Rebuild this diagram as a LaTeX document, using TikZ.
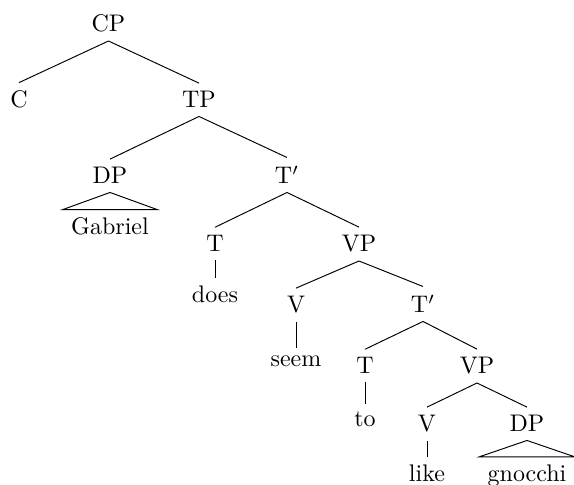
\documentclass[tikz,border=0pt]{standalone}
\begin{document}
\begin{tikzpicture}[x=0.41667pt,y=-0.41667pt,
  lbl/.style={anchor=base,inner sep=3.33pt},
  branch/.style={line width=0.4pt},
  roof/.style={line width=0.4pt}]
\useasboundingbox (0,0) rectangle (574,485);
% nodes
\node[lbl] (cp)  at (108.5,32) {CP};
\node[lbl] (c)   at (19,108)   {C};
\node[lbl] (tp)  at (199,108)  {TP};
\node[lbl] (dp)  at (110,184)  {DP};
\node[lbl] (tb)  at (287,184)  {T$'$};
\node[lbl] (gab) at (110,235)  {Gabriel};
\node[lbl] (t)   at (215,252)  {T};
\node[lbl] (vp)  at (359,252)  {VP};
\node[lbl] (does) at (215,303) {does};
\node[lbl] (v)   at (296,313)  {V};
\node[lbl] (tbb) at (423,313)  {T$'$};
\node[lbl] (seem) at (296,367) {seem};
\node[lbl] (tt)  at (365,374)  {T};
\node[lbl] (vpp) at (477,374)  {VP};
\node[lbl] (to)  at (365,427)  {to};
\node[lbl] (vv)  at (427,432)  {V};
\node[lbl] (dpp) at (527,432)  {DP};
\node[lbl] (like) at (427,482) {like};
\node[lbl] (gno) at (527,482)  {gnocchi};
% branches
\draw[branch] (cp.south) -- (c.north);
\draw[branch] (cp.south) -- (tp.north);
\draw[branch] (tp.south) -- (dp.north);
\draw[branch] (tp.south) -- (tb.north);
\draw[roof] (dp.south) -- (gab.north west) -- (gab.north east) -- cycle;
\draw[branch] (tb.south) -- (t.north);
\draw[branch] (tb.south) -- (vp.north);
\draw[branch] (t.south) -- (does.north);
\draw[branch] (vp.south) -- (v.north);
\draw[branch] (vp.south) -- (tbb.north);
\draw[branch] (v.south) -- (seem.north);
\draw[branch] (tbb.south) -- (tt.north);
\draw[branch] (tbb.south) -- (vpp.north);
\draw[branch] (tt.south) -- (to.north);
\draw[branch] (vpp.south) -- (vv.north);
\draw[branch] (vpp.south) -- (dpp.north);
\draw[branch] (vv.south) -- (like.north);
\draw[roof] (dpp.south) -- (gno.north west) -- (gno.north east) -- cycle;
\end{tikzpicture}
\end{document}
